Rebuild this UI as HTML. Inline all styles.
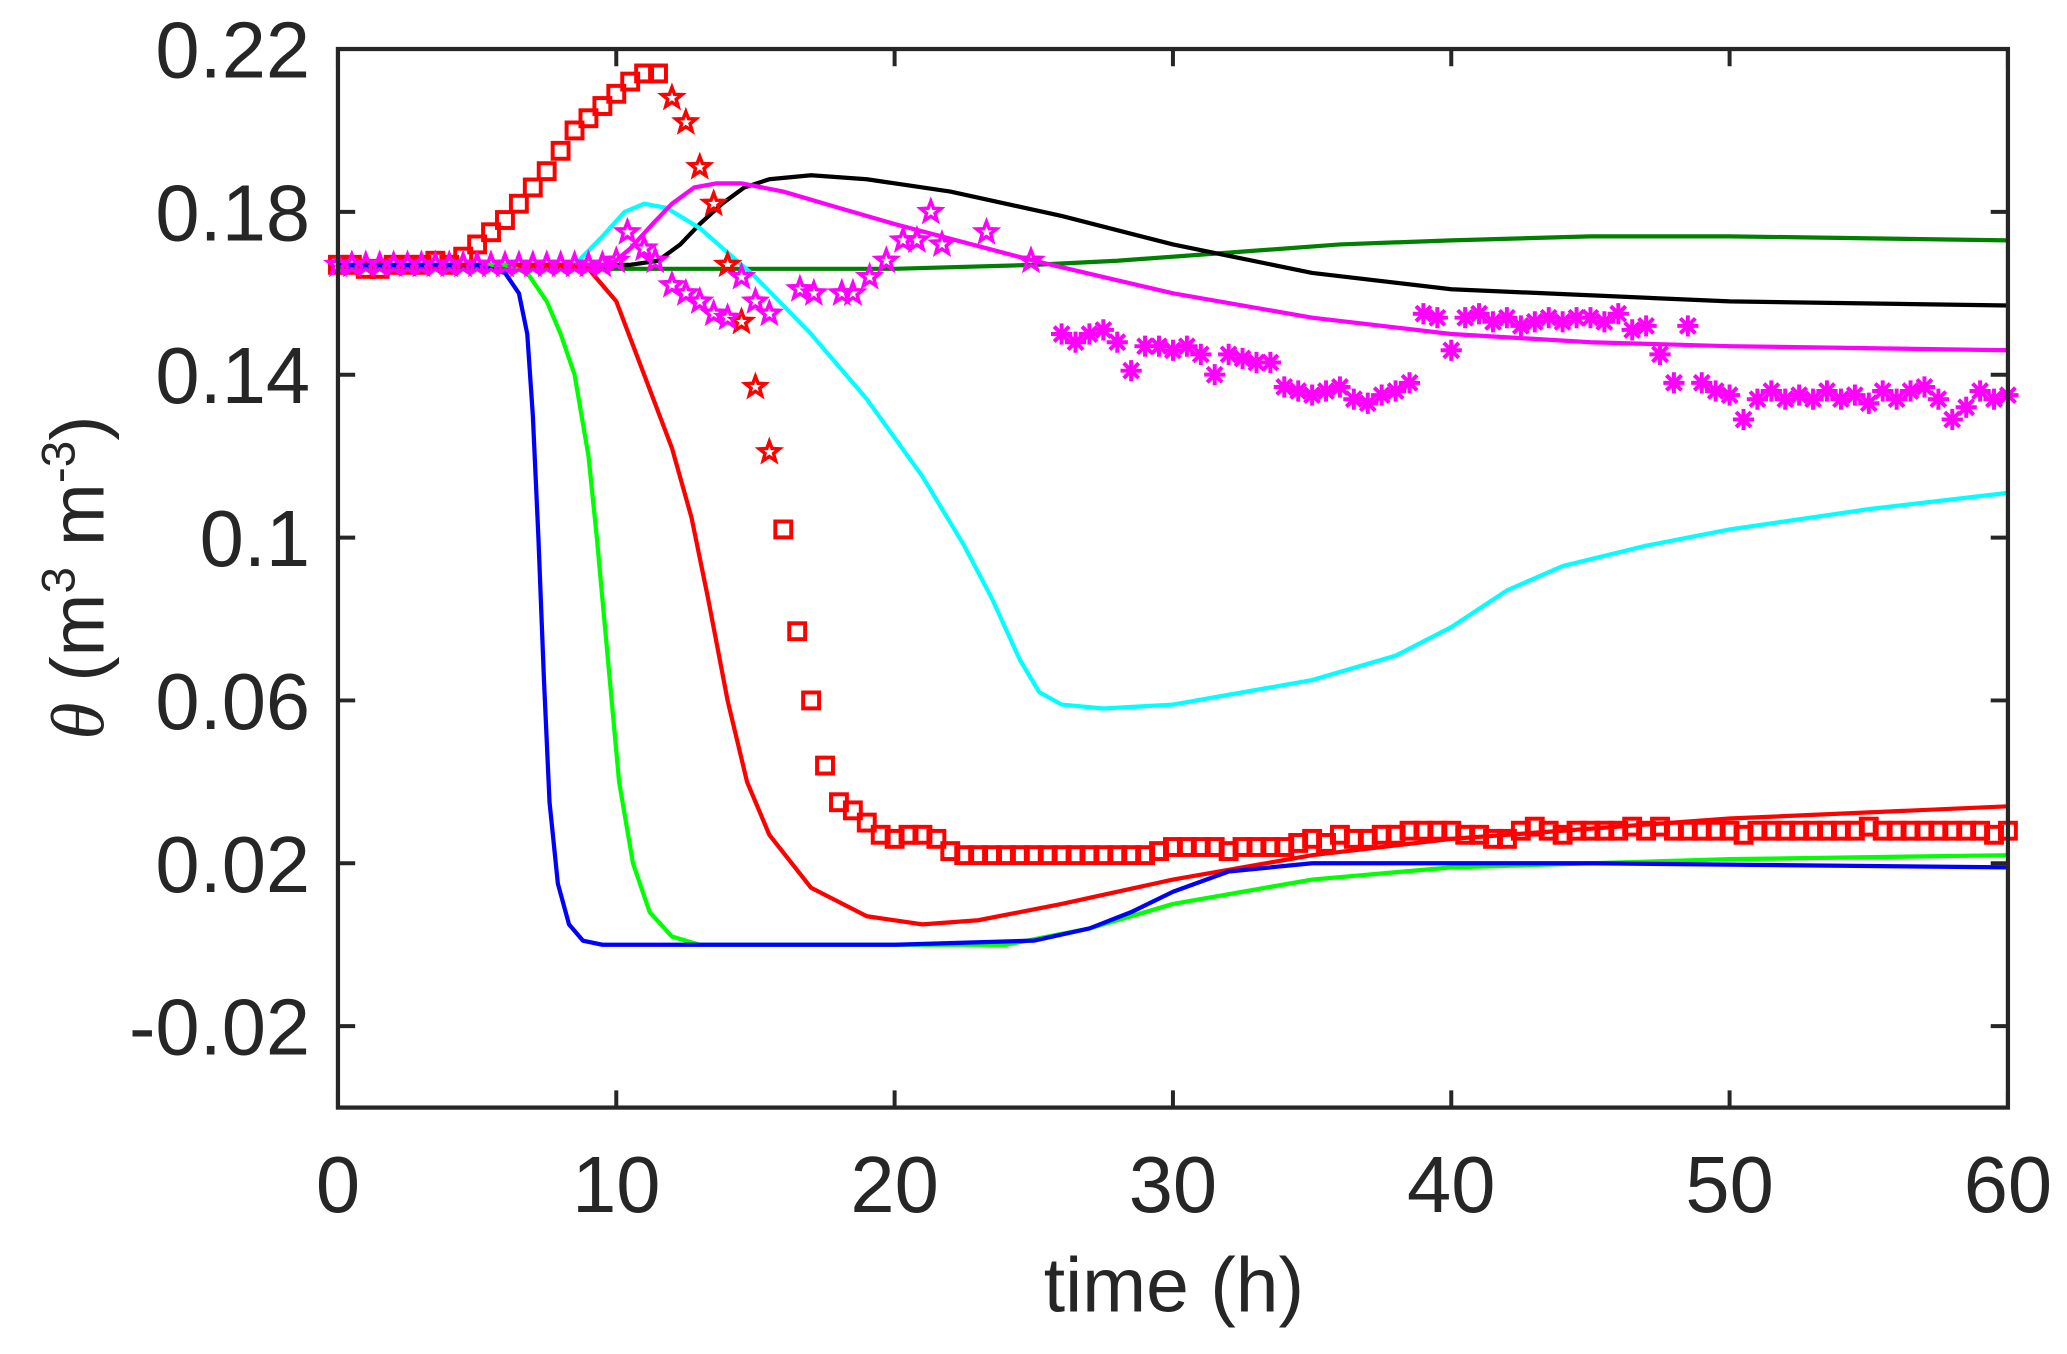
<!DOCTYPE html>
<html><head><meta charset="utf-8"><style>
html,body{margin:0;padding:0;background:#fff;}
svg{display:block;}
text{font-family:"Liberation Sans",Arial,sans-serif;fill:#262626;}
</style></head><body>
<svg id="chart" width="2067" height="1354" viewBox="0 0 1560 1022" xmlns="http://www.w3.org/2000/svg">
<rect x="0" y="0" width="1560" height="1022" fill="#fff"/>
<g id="series"></g>
<g id="axes"></g>
<text x="886" y="990" font-size="58" text-anchor="middle">time (h)</text>
<text transform="translate(78,436) rotate(-90)" font-size="57" text-anchor="middle"><tspan font-style="italic" font-family="Liberation Serif, serif">θ</tspan> (m<tspan font-size="36" dy="-22">3</tspan><tspan dy="22"> m</tspan><tspan font-size="36" dy="-22">-3</tspan><tspan dy="22">)</tspan></text>
</svg>
<script>
const xTicks=[0,10,20,30,40,50,60];
const yTicks=[-0.02,0.02,0.06,0.1,0.14,0.18,0.22];
const yTickLabels=["-0.02","0.02","0.06","0.1","0.14","0.18","0.22"];

const blueT=[0,5,6,6.5,6.8,7,7.2,7.4,7.6,7.9,8.3,8.8,9.5,20,25,27,28.5,30,32,35,45,60];
const blueV=[0.167,0.167,0.165,0.16,0.15,0.13,0.10,0.065,0.035,0.015,0.005,0.001,0,0,0.001,0.004,0.008,0.013,0.018,0.02,0.02,0.019];
const limeT=[0,6,6.8,7.5,8,8.5,9,9.3,9.7,10.1,10.6,11.2,12,13,24,27,30,35,40,50,60];
const limeV=[0.167,0.167,0.165,0.158,0.15,0.14,0.12,0.10,0.07,0.04,0.02,0.008,0.002,0,0,0.004,0.01,0.016,0.019,0.021,0.022];
const redT=[0,8,9,10,11,12,12.7,13.3,14,14.7,15.5,17,19,21,23,26,30,35,40,50,60];
const redV=[0.167,0.167,0.166,0.158,0.14,0.122,0.105,0.085,0.06,0.04,0.027,0.014,0.007,0.005,0.006,0.01,0.016,0.022,0.026,0.031,0.034];
const cyanT=[0,8.5,9.5,10.3,11,11.8,13,15,17,19,21,22.5,23.5,24.5,25.2,26,27.5,30,35,38,40,42,44,47,50,55,60];
const cyanV=[0.167,0.167,0.174,0.18,0.182,0.181,0.176,0.164,0.15,0.134,0.115,0.098,0.085,0.07,0.062,0.059,0.058,0.059,0.065,0.071,0.078,0.087,0.093,0.098,0.102,0.107,0.111];
const magT=[0,9.8,10.5,11.3,12,12.8,13.6,14.5,16,18,20,25,30,35,40,45,50,60];
const magV=[0.167,0.167,0.171,0.177,0.182,0.186,0.187,0.187,0.185,0.181,0.177,0.168,0.16,0.154,0.15,0.148,0.147,0.146];
const blackT=[0,10.5,11.5,12.3,13,13.8,14.6,15.5,17,19,22,26,30,35,40,50,60];
const blackV=[0.167,0.167,0.168,0.172,0.177,0.182,0.186,0.188,0.189,0.188,0.185,0.179,0.172,0.165,0.161,0.158,0.157];
const greenT=[0,20,25,28,32,36,40,45,50,60];
const greenV=[0.166,0.166,0.167,0.168,0.17,0.172,0.173,0.174,0.174,0.173];

const sqT=[0,0.5,1,1.5,2,2.5,3,3.5,4,4.5,5,5.5,6,6.5,7,7.5,8,8.5,9,9.5,10,10.5,11,11.5,16,16.5,17,17.5,18,18.5,19,19.5,20,20.5,21,21.5,22,22.5,23,23.5,24,24.5,25,25.5,26,26.5,27,27.5,28,28.5,29,29.5,30,30.5,31,31.5,32,32.5,33,33.5,34,34.5,35,35.5,36,36.5,37,37.5,38,38.5,39,39.5,40,40.5,41,41.5,42,42.5,43,43.5,44,44.5,45,45.5,46,46.5,47,47.5,48,48.5,49,49.5,50,50.5,51,51.5,52,52.5,53,53.5,54,54.5,55,55.5,56,56.5,57,57.5,58,58.5,59,59.5,60];
const sqV=[0.167,0.167,0.166,0.166,0.167,0.167,0.167,0.168,0.167,0.169,0.172,0.175,0.178,0.182,0.186,0.19,0.195,0.2,0.203,0.206,0.209,0.212,0.214,0.214,0.102,0.077,0.06,0.044,0.035,0.033,0.03,0.027,0.026,0.027,0.027,0.026,0.023,0.022,0.022,0.022,0.022,0.022,0.022,0.022,0.022,0.022,0.022,0.022,0.022,0.022,0.022,0.023,0.024,0.024,0.024,0.024,0.023,0.024,0.024,0.024,0.024,0.025,0.026,0.025,0.027,0.026,0.026,0.027,0.027,0.028,0.028,0.028,0.028,0.027,0.027,0.026,0.026,0.028,0.029,0.028,0.027,0.028,0.028,0.028,0.028,0.029,0.028,0.029,0.028,0.028,0.028,0.028,0.028,0.027,0.028,0.028,0.028,0.028,0.028,0.028,0.028,0.028,0.029,0.028,0.028,0.028,0.028,0.028,0.028,0.028,0.028,0.027,0.028];
const rStarT=[12,12.5,13,13.5,14,14.5,15,15.5];
const rStarV=[0.208,0.202,0.191,0.182,0.167,0.153,0.137,0.121];
const mStarT=[0,0.5,1,1.5,2,2.5,3,3.5,4,4.5,5,5.5,6,6.5,7,7.5,8,8.5,9,9.5,10,10.4,11,11.4,12,12.5,13,13.5,14,14.5,15,15.5,16.6,17.1,18.1,18.5,19.1,19.7,20.3,20.8,21.3,21.7,23.3,24.9];
const mStarV=[0.167,0.167,0.167,0.167,0.167,0.167,0.167,0.167,0.167,0.167,0.167,0.167,0.167,0.167,0.167,0.167,0.167,0.167,0.167,0.167,0.168,0.175,0.171,0.168,0.162,0.16,0.158,0.155,0.154,0.164,0.158,0.155,0.161,0.16,0.16,0.16,0.164,0.168,0.173,0.173,0.18,0.172,0.175,0.168];
const astT=[26,26.5,27,27.5,28,28.5,29,29.5,30,30.5,31,31.5,32,32.5,33,33.5,34,34.5,35,35.5,36,36.5,37,37.5,38,38.5,39,39.5,40,40.5,41,41.5,42,42.5,43,43.5,44,44.5,45,45.5,46,46.5,47,47.5,48,48.5,49,49.5,50,50.5,51,51.5,52,52.5,53,53.5,54,54.5,55,55.5,56,56.5,57,57.5,58,58.5,59,59.5,60];
const astV=[0.15,0.148,0.15,0.151,0.148,0.141,0.147,0.147,0.146,0.147,0.145,0.14,0.145,0.144,0.143,0.143,0.137,0.136,0.135,0.136,0.137,0.134,0.133,0.135,0.136,0.138,0.155,0.154,0.146,0.154,0.155,0.153,0.154,0.152,0.153,0.154,0.153,0.154,0.154,0.153,0.155,0.151,0.152,0.145,0.138,0.152,0.138,0.136,0.135,0.129,0.134,0.136,0.134,0.135,0.134,0.136,0.134,0.135,0.133,0.136,0.134,0.136,0.137,0.134,0.129,0.132,0.136,0.134,0.135];

const L=255,R=1515.5,T=37,B=836,X0=0,X1=60,Y0=-0.04,Y1=0.22;
function sx(t){return L+(t-X0)/(X1-X0)*(R-L);}
function sy(v){return B-(v-Y0)/(Y1-Y0)*(B-T);}
const NS="http://www.w3.org/2000/svg";
const gS=document.getElementById('series'),gA=document.getElementById('axes');
function mk(tag,attrs,parent){const e=document.createElementNS(NS,tag);for(const k in attrs)e.setAttribute(k,attrs[k]);parent.appendChild(e);return e;}

function line(ts,vs,color,name){
  let d='';ts.forEach((t,i)=>{d+=(i?'L':'M')+sx(t).toFixed(1)+' '+sy(vs[i]).toFixed(1);});
  const p=mk('path',{d:d,fill:'none',stroke:color,'stroke-width':3.2,'stroke-linejoin':'round','stroke-linecap':'round'},gS);
  
  
}
line(greenT,greenV,'#008000','series-dark-green-line');
line(blackT,blackV,'#000000','series-black-line');
line(cyanT,cyanV,'#00ffff','series-cyan-line');
line(magT,magV,'#ff00ff','series-magenta-line');
line(redT,redV,'#ff0000','series-red-line');
line(limeT,limeV,'#00ff00','series-green-line');
line(blueT,blueV,'#0000ff','series-blue-line');

function starPts(cx,cy,r){let s='';for(let i=0;i<10;i++){const a=-Math.PI/2+i*Math.PI/5;const rr=i%2?r*0.42:r;s+=(cx+rr*Math.cos(a)).toFixed(1)+','+(cy+rr*Math.sin(a)).toFixed(1)+' ';}return s;}
sqT.forEach((t,i)=>{
  const r=mk('rect',{x:sx(t)-6,y:sy(sqV[i])-6,width:12,height:12,fill:'none',stroke:'#ff0000','stroke-width':3},gS);
  
  
});
rStarT.forEach((t,i)=>{
  const p=mk('polygon',{points:starPts(sx(t),sy(rStarV[i]),8),fill:'none',stroke:'#ff0000','stroke-width':2.6},gS);
  
  
});
mStarT.forEach((t,i)=>{
  const p=mk('polygon',{points:starPts(sx(t),sy(mStarV[i]),8),fill:'none',stroke:'#ff00ff','stroke-width':2.6},gS);
  
  
});
astT.forEach((t,i)=>{
  const cx=sx(t),cy=sy(astV[i]);let d='';
  for(let k=0;k<4;k++){const a=k*Math.PI/4;const dx=8*Math.sin(a),dy=8*Math.cos(a);d+='M'+(cx-dx).toFixed(1)+' '+(cy-dy).toFixed(1)+'L'+(cx+dx).toFixed(1)+' '+(cy+dy).toFixed(1);}
  const p=mk('path',{d:d,stroke:'#ff00ff','stroke-width':3},gS);
  
  
});

const box=mk('rect',{x:L,y:T,width:R-L,height:B-T,fill:'none',stroke:'#262626','stroke-width':3.2},gA);


xTicks.forEach(t=>{
  const x=sx(t);
  const a=mk('path',{d:`M${x} ${B}V${B-13}M${x} ${T}V${T+13}`,stroke:'#262626','stroke-width':3},gA);
  
  
  const tx=mk('text',{x:x,y:915,'font-size':60,'text-anchor':'middle'},gA);
  tx.textContent=String(t);
  
  
});
yTicks.forEach((v,i)=>{
  const y=sy(v);
  const a=mk('path',{d:`M${L} ${y}H${L+13}M${R} ${y}H${R-13}`,stroke:'#262626','stroke-width':3},gA);
  
  
  const tx=mk('text',{x:234,y:y+21.5,'font-size':60,'text-anchor':'end'},gA);
  tx.textContent=yTickLabels[i];
  
  
});
</script>
</body></html>
